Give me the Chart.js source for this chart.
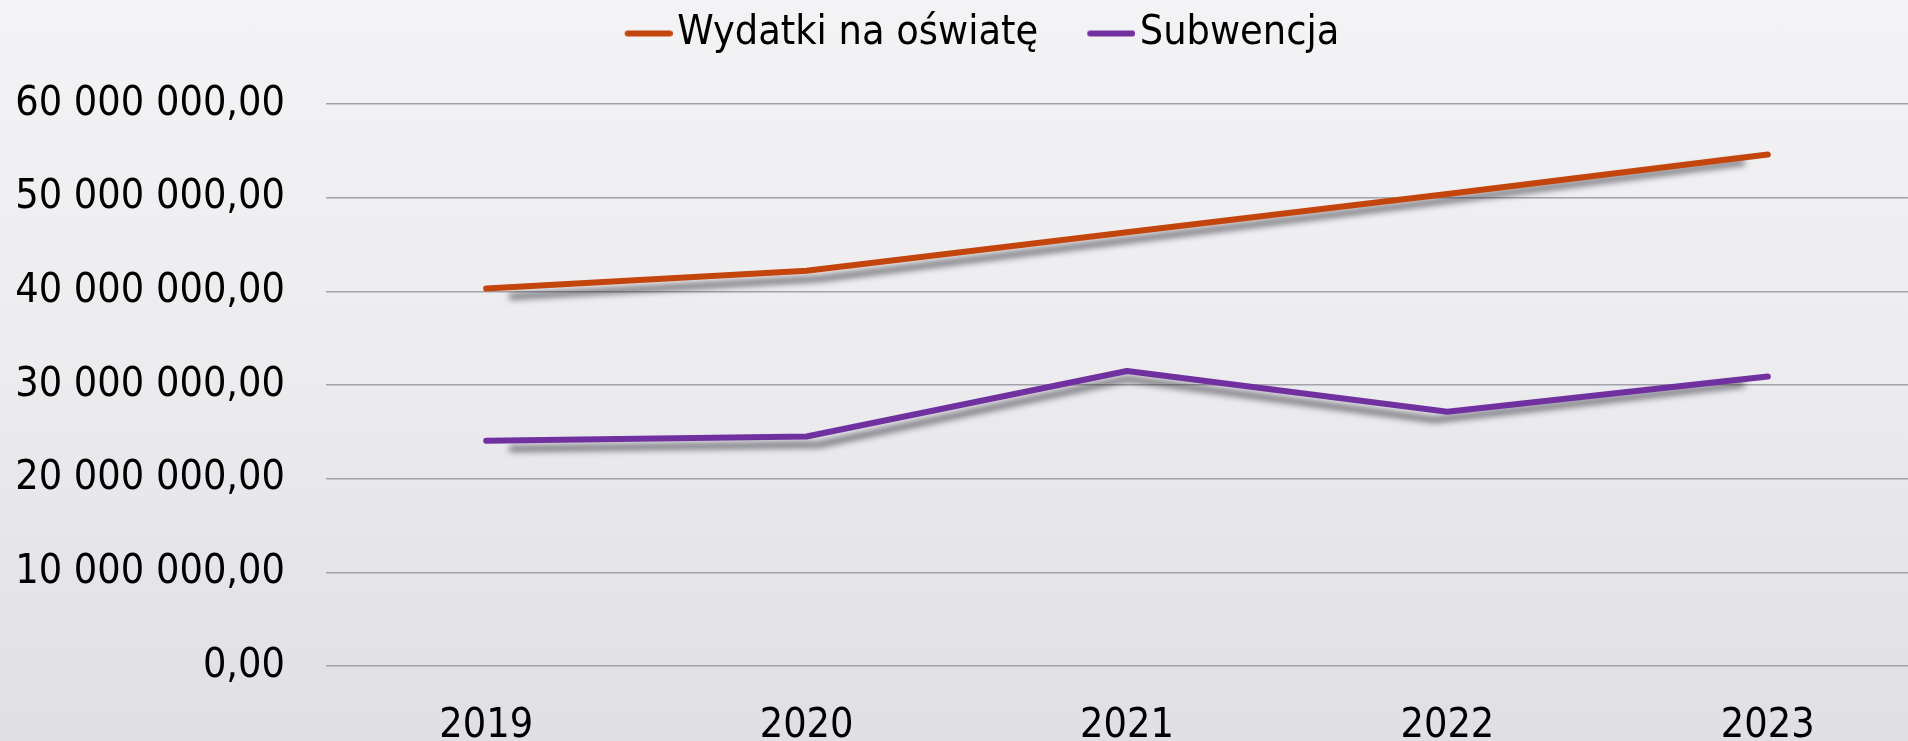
<!DOCTYPE html>
<html>
<head>
<meta charset="utf-8">
<script src="https://cdn.jsdelivr.net/npm/chart.js@4"></script>
<style>
  html, body { margin: 0; padding: 0; overflow: hidden; }
  #wrap {
    width: 1908px;
    height: 741px;
    overflow: hidden;
    background: linear-gradient(to bottom, #f3f3f5 0%, #ececef 50%, #dfdfe4 100%);
  }
  canvas { display: block; }
</style>
</head>
<body>
<div id="wrap">
  <canvas id="wykres" width="1928" height="741"></canvas>
</div>
<script>
const lata = ["2019", "2020", "2021", "2022", "2023"];
const wydatkiNaOswiate = [40300000, 42200000, 46300000, 50400000, 54600000];
const subwencja = [24050000, 24500000, 31500000, 27150000, 30900000];
const podzialkiY = [0, 10000000, 20000000, 30000000, 40000000, 50000000, 60000000];

const FONT = { family: '"DejaVu Sans Condensed", "Liberation Sans", sans-serif', size: 41 };

// 60 000 000,00
function formatPL(v) {
  const parts = Number(v).toFixed(2).split(".");
  return parts[0].replace(/\B(?=(\d{3})+(?!\d))/g, " ") + "," + parts[1];
}

// legend marker: short thick line, drawn right before the text
function znacznik(kolor) {
  const c = document.createElement("canvas");
  c.width = 100;
  c.height = 10;
  const g = c.getContext("2d");
  g.strokeStyle = kolor;
  g.lineWidth = 6;
  g.lineCap = "round";
  g.beginPath();
  g.moveTo(55, 5);
  g.lineTo(97, 5);
  g.stroke();
  return c;
}

// keep the plot area top where the 60 mln gridline sits
const miejsceLegendy = {
  id: "miejsceLegendy",
  beforeInit(chart) {
    const fit = chart.legend.fit;
    chart.legend.fit = function () {
      fit.call(this);
      this.height = 104;
    };
  }
};

// soft grey shadow under each line, a bit shorter than the line itself
const cienLinii = {
  id: "cienLinii",
  beforeDatasetDraw(chart, args) {
    const ctx = chart.ctx;
    const area = chart.chartArea;
    const cx = (area.left + area.right) / 2;
    const far = 5000;
    ctx.save();
    ctx.shadowColor = "rgba(30, 30, 40, 0.6)";
    ctx.shadowBlur = 6;
    ctx.shadowOffsetX = far;
    ctx.shadowOffsetY = 8;
    ctx.translate(cx - far, 0);
    ctx.scale(0.96, 1);
    ctx.translate(-cx, 0);
    args.meta.dataset.draw(ctx);
    ctx.restore();
  }
};

const ctx = document.getElementById("wykres").getContext("2d");
new Chart(ctx, {
  type: "line",
  data: {
    labels: lata,
    datasets: [
      {
        label: "Wydatki na oświatę",
        data: wydatkiNaOswiate,
        borderColor: "#c4450c",
        backgroundColor: "#c4450c",
        borderWidth: 6,
        borderCapStyle: "round",
        borderJoinStyle: "round",
        tension: 0,
        pointRadius: 0,
        pointStyle: znacznik("#c4450c")
      },
      {
        label: "Subwencja",
        data: subwencja,
        borderColor: "#7030a0",
        backgroundColor: "#7030a0",
        borderWidth: 6,
        borderCapStyle: "round",
        borderJoinStyle: "round",
        tension: 0,
        pointRadius: 0,
        pointStyle: znacznik("#7030a0")
      }
    ]
  },
  options: {
    responsive: false,
    animation: false,
    devicePixelRatio: 1,
    layout: { padding: { left: 0, right: 0, top: 0, bottom: 0 } },
    plugins: {
      legend: {
        position: "top",
        labels: {
          usePointStyle: true,
          pointStyleWidth: 68,
          padding: 13,
          color: "#000000",
          font: FONT
        }
      },
      tooltip: { enabled: false }
    },
    scales: {
      x: {
        offset: true,
        grid: { display: false },
        border: { display: false },
        ticks: { color: "#000000", font: FONT, padding: 28, maxRotation: 0 },
        afterFit(scale) { scale.height = 75; }
      },
      y: {
        min: 0,
        max: 60000000,
        afterBuildTicks(scale) {
          scale.ticks = podzialkiY.map((v) => ({ value: v }));
        },
        grid: { color: "#a2a2a8", lineWidth: 1.5, drawTicks: false },
        border: { display: false },
        ticks: {
          color: "#000000",
          font: FONT,
          padding: 41,
          callback: (v) => formatPL(v)
        },
        afterFit(scale) { scale.width = 326; }
      }
    }
  },
  plugins: [miejsceLegendy, cienLinii]
});
</script>
</body>
</html>
